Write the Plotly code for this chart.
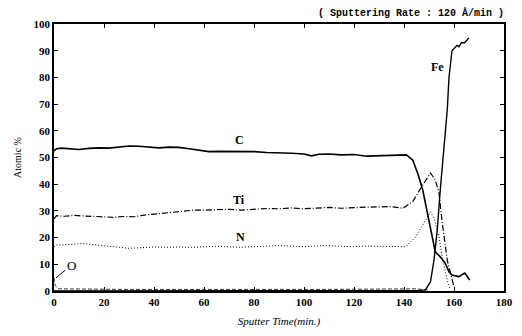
import plotly.graph_objects as go

# ---- data ----
c_t = [0, 1, 3, 6, 10, 14, 18, 22, 26, 30, 34, 38, 42, 46, 50, 54, 58, 60, 62, 66, 70, 75, 80, 85, 90, 95,
       100, 103, 106, 110, 115, 120, 125, 130, 135, 138, 141, 143.5, 145.5, 147.5, 149.4, 151.4, 152.5,
       154.5, 156.5, 158, 159.2, 161.9, 164.3, 166.3]
c_v = [52.5, 53.3, 53.5, 53.3, 53.0, 53.4, 53.6, 53.5, 53.8, 54.3, 54.2, 53.8, 53.6, 53.9, 53.8, 53.3, 52.8,
       52.3, 52.2, 52.3, 52.3, 52.1, 52.2, 51.9, 51.8, 51.6, 51.3, 50.6, 51.2, 51.3, 51.0, 51.1, 50.5, 50.7,
       51.0, 51.1, 51.0, 49, 44, 37.8, 29, 20.3, 14.7, 12.8, 10.4, 7.2, 6, 5.4, 6.7, 4.1]

ti_t = [0, 1, 4, 8, 12, 16, 20, 24, 28, 32, 36, 40, 45, 49, 53, 56, 60, 65, 70, 75, 80, 85, 90, 95, 100,
        105, 110, 115, 120, 125, 130, 135, 139.6, 143.5, 147.5, 150.6, 152.5, 154, 155.3, 157.3, 160]
ti_v = [27, 28.2, 28, 28.3, 28.1, 27.9, 27.8, 27.6, 27.9, 27.8, 28.4, 28.8, 29.2, 29.7, 30, 30.3, 30.3,
        30.4, 30.6, 30.3, 30.7, 30.9, 30.8, 31.1, 30.8, 31.1, 31.3, 31.0, 31.3, 31.4, 31.5, 31.6, 31,
        33.5, 39.7, 44.2, 41.6, 36.7, 25.5, 11.6, 1.5]

n_t = [0, 1, 4, 8, 12, 16, 20, 25, 30, 35, 40, 45, 50, 55, 60, 65, 70, 75, 80, 85, 90, 95, 100, 105, 110,
       115, 120, 125, 130, 136.9, 140.8, 144.7, 148.6, 150.6, 152, 154, 155.3, 157.3, 158.4]
n_v = [16.5, 17.2, 17.3, 17.5, 17.8, 17.3, 17.0, 16.5, 16.0, 16.2, 16.5, 16.4, 16.5, 16.3, 16.6, 16.8,
       16.5, 16.4, 16.6, 16.8, 17.0, 16.8, 16.6, 16.9, 17.0, 16.7, 16.6, 16.8, 16.7, 16.6, 16.6, 20.3,
       26.6, 29.7, 27.3, 20.3, 12.8, 4, 1]

fe_t = [0, 20, 40, 60, 80, 100, 120, 140, 146, 148.6, 150.6, 152, 153.3, 154.5, 155.7, 157.3, 158, 159.2,
        161.2, 162, 163, 164.3, 165.9]
fe_v = [0, 0, 0, 0, 0, 0, 0, 0, 0.2, 0.4, 3.5, 11.6, 22.8, 37.8, 50.3, 67.8, 80, 90, 92, 91.5, 93, 93, 94.8]

o_t = [0, 0.5, 2, 10, 30, 50, 70, 90, 110, 130, 145, 150]
o_v = [5, 2, 0.8, 0.7, 0.6, 0.6, 0.7, 0.6, 0.6, 0.7, 0.8, 0.3]

x_ticks = [0, 20, 40, 60, 80, 100, 120, 140, 160, 180]
y_ticks = [0, 10, 20, 30, 40, 50, 60, 70, 80, 90, 100]

labels = [("C", 74, 56.5), ("Ti", 74, 34), ("N", 74.5, 20.2), ("Fe", 153.5, 84)]

fig = go.Figure()
fig.add_trace(go.Scatter(x=o_t, y=o_v, mode="lines", line=dict(color="black", width=0.8, dash="4px,2px")))
fig.add_trace(go.Scatter(x=fe_t, y=fe_v, mode="lines", line=dict(color="black", width=1.4)))
fig.add_trace(go.Scatter(x=n_t, y=n_v, mode="lines", line=dict(color="black", width=1, dash="1px,2px")))
fig.add_trace(go.Scatter(x=ti_t, y=ti_v, mode="lines", line=dict(color="black", width=1.2, dash="6px,2px,1px,2px")))
fig.add_trace(go.Scatter(x=c_t, y=c_v, mode="lines", line=dict(color="black", width=1.6)))

serif = "Liberation Serif"
for txt, x, y in labels:
    fig.add_annotation(x=x, y=y, text=txt, showarrow=False,
                       font=dict(family=serif, size=12, color="black", weight="bold"))
fig.add_annotation(x=0.8, y=4.9, ax=6.9, ay=9.7, axref="x", ayref="y", text="O",
                   showarrow=True, arrowhead=0, arrowwidth=1, arrowcolor="black",
                   font=dict(family=serif, size=13, color="black"))
fig.add_annotation(xref="paper", yref="paper", x=1.005, y=1.0, yshift=19, xanchor="right",
                   text="( Sputtering Rate : 120 \u00c5/min )", showarrow=False,
                   font=dict(family="Liberation Mono", size=10, color="black", weight="bold"))

axis_common = dict(showgrid=False, zeroline=False, showline=True, linecolor="black", linewidth=1.5,
                   mirror="ticks", ticks="inside", ticklen=4, tickcolor="black",
                   tickfont=dict(family=serif, size=11, color="black", weight="bold"))
fig.update_xaxes(range=[0, 180], tickvals=x_ticks, ticktext=[str(v) for v in x_ticks],
                 title=dict(text="<i>Sputter Time(min.)</i>", font=dict(family=serif, size=11, color="black"),
                            standoff=10),
                 **axis_common)
fig.update_yaxes(range=[0, 100], tickvals=y_ticks, ticktext=[str(v) for v in y_ticks],
                 title=dict(text="Atomic %", font=dict(family=serif, size=10, color="black"), standoff=10),
                 **axis_common)

fig.update_layout(width=522, height=336, margin=dict(l=54, r=9, t=24, b=45),
                  paper_bgcolor="white", plot_bgcolor="white", showlegend=False)
fig.write_html("out.html")
